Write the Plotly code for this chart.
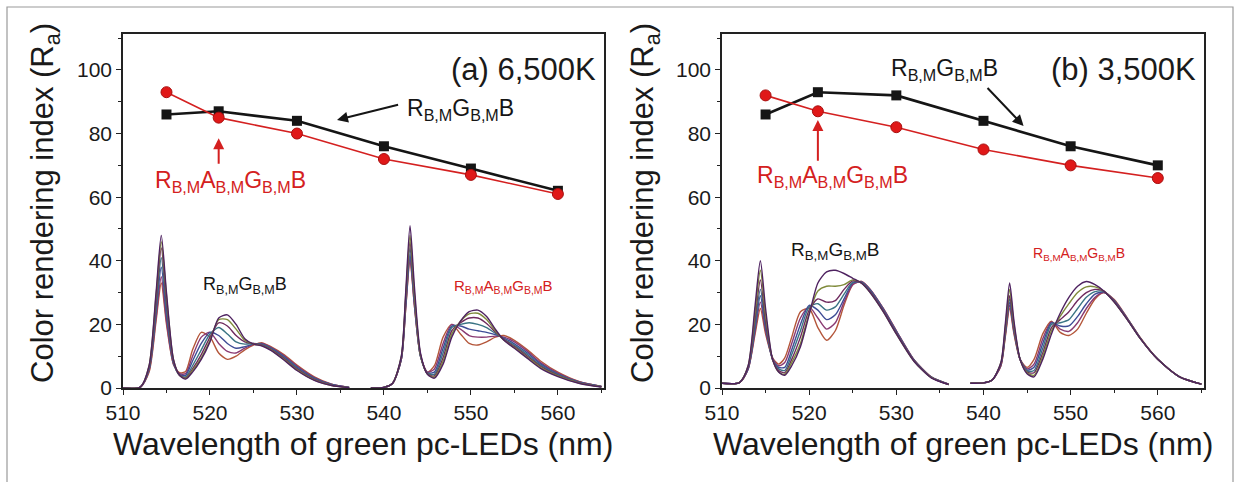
import plotly.graph_objects as go

# ---------------- data ----------------
wavelength = [515, 521, 530, 540, 550, 560]

# (a) 6,500K
cri_a_rgb = [86, 87, 84, 76, 69, 62]
cri_a_ragb = [93, 85, 80, 72, 67, 61]
# (b) 3,500K
cri_b_rgb = [86, 93, 92, 84, 76, 70]
cri_b_ragb = [92, 87, 82, 75, 70, 66]

x_ticks = [510, 520, 530, 540, 550, 560]
y_ticks = [0, 20, 40, 60, 80, 100]

# inset spectra (plotted in the axes' units)
spec1_x = [510, 512, 513, 513.8, 514.4, 515.0, 515.8, 516.5, 517.2, 518, 519, 520,
           521, 522, 523, 524, 525, 526, 527, 528.5, 530, 532, 534, 536]
spec2_x = [538.5, 540, 541, 542, 542.5, 543, 543.5, 544.2, 545, 545.8, 546.8, 547.8,
           548.8, 549.8, 550.8, 551.8, 552.8, 553.8, 555, 556.5, 558, 560, 562.5, 565]

spec_a1 = [
    [0, 0.3, 7, 30, 48, 30, 9, 4, 2.8, 5, 9, 14.5, 22, 23, 20, 15.5, 13.8, 13.2, 11.8, 8.8, 5.5, 2.4, 0.8, 0.1],
    [0, 0.3, 7, 29, 46, 29, 9, 4, 3, 5.5, 9.5, 15, 21.5, 21.5, 18.5, 15, 13.8, 13.3, 12, 9, 5.7, 2.5, 0.8, 0.1],
    [0, 0.3, 6.5, 27, 44, 27, 8.5, 4, 3.2, 6, 10.5, 16, 20.5, 19.5, 16.5, 14.5, 14, 13.5, 12.2, 9.3, 6, 2.7, 0.9, 0.1],
    [0, 0.3, 6, 25, 41, 25, 8, 4, 3.5, 7, 12, 17, 19, 17, 14.5, 13.8, 14, 13.6, 12.4, 9.6, 6.3, 2.9, 1, 0.15],
    [0, 0.3, 6, 24, 38, 23, 8, 4.2, 4, 8.5, 14, 17.5, 16.5, 14, 12.5, 13, 13.8, 13.8, 12.6, 9.9, 6.6, 3.1, 1.1, 0.2],
    [0, 0.3, 5.5, 22, 35, 21, 7.5, 4.5, 4.5, 10, 16, 17.5, 14, 11.5, 11, 12.5, 13.7, 14, 12.8, 10.2, 6.9, 3.3, 1.1, 0.2],
    [0, 0.3, 5, 21, 33, 20, 7.5, 4.8, 5.2, 12, 17.5, 16, 11, 9, 10, 12, 13.5, 14.2, 13, 10.5, 7.2, 3.5, 1.2, 0.2],
]
spec_a2 = [
    [0, 0.2, 1.5, 10, 30, 51, 32, 11, 4.3, 3.1, 7.5, 16, 21, 24, 24.5, 22.5, 18.5, 15, 12.5, 9.3, 6.2, 3.6, 1.4, 0.3],
    [0, 0.2, 1.5, 10, 29, 48, 30, 10.5, 4.4, 3.4, 8.5, 17, 21, 23.3, 23.5, 21.5, 18, 15, 12.7, 9.6, 6.5, 3.8, 1.5, 0.4],
    [0, 0.2, 1.5, 9.5, 28, 46, 29, 10.5, 4.5, 3.8, 9.5, 18, 20.5, 22, 22, 20.3, 17.6, 15.2, 13, 10, 6.8, 4, 1.6, 0.4],
    [0, 0.2, 1.5, 9.5, 27, 44, 28, 10, 4.6, 4.3, 11, 19, 20, 20.5, 20, 19, 17.2, 15.4, 13.4, 10.5, 7.2, 4.2, 1.7, 0.4],
    [0, 0.2, 1.5, 9, 26, 42, 27, 10, 4.8, 5, 12.5, 19.5, 19.5, 18.5, 18, 17.5, 16.8, 15.7, 13.9, 11, 7.6, 4.4, 1.8, 0.5],
    [0, 0.2, 1.5, 9, 25, 41, 26, 10, 5, 6, 14, 20, 18.5, 16.5, 16, 16, 16.3, 16, 14.5, 11.5, 8, 4.7, 1.9, 0.5],
    [0, 0.2, 1.5, 9, 25, 40, 26, 10, 5, 7, 16, 20, 17, 14, 13.5, 14.5, 16, 16.5, 15, 12, 8.5, 5, 2, 0.5],
]
spec_b1 = [
    [1.5, 1.7, 7, 26, 40, 25, 9, 5, 4, 7, 13, 23, 33, 36.5, 37, 36, 34.5, 33, 30, 24, 17, 8.5, 3.2, 1.1],
    [1.5, 1.7, 7, 24, 37, 23, 9, 5, 4.3, 8, 14, 23.5, 30.5, 32, 32, 32.5, 34, 33, 30, 24, 17, 8.5, 3.3, 1.1],
    [1.5, 1.7, 6.5, 22, 34, 21, 9, 5.5, 4.8, 9, 16, 24.5, 28, 27, 27.5, 31, 33.7, 33, 30.3, 24.3, 17.3, 8.7, 3.3, 1.1],
    [1.5, 1.7, 6.5, 20, 31, 20, 9, 6, 5.5, 10.5, 18, 25.5, 26.5, 24.5, 25.5, 29.5, 33.3, 33.2, 30.5, 24.5, 17.5, 8.8, 3.4, 1.1],
    [1.5, 1.7, 6, 19, 29, 19, 9, 6.5, 6.5, 12, 20, 26, 24.5, 21.5, 23, 28, 33, 33.3, 30.8, 24.8, 17.8, 8.9, 3.4, 1.2],
    [1.5, 1.7, 6, 18, 27, 18, 9.5, 7, 8, 14, 22, 25.5, 22, 18.5, 20.5, 27, 32.5, 33.5, 31, 25, 18, 9, 3.5, 1.2],
    [1.5, 1.7, 6, 17, 25, 17, 9.5, 7.5, 9.5, 16, 24, 25, 19, 15, 18, 26, 32.5, 33.5, 31, 25, 18, 9, 3.5, 1.2],
]
spec_b2 = [
    [1.5, 1.6, 2.5, 8, 20, 33, 21, 9, 4.5, 3.5, 9, 17, 23.5, 28.5, 32, 33.5, 32.5, 30.5, 27, 21.5, 15.5, 9, 3.5, 1.2],
    [1.5, 1.6, 2.5, 8, 19, 31, 20, 9, 4.8, 4, 10, 18, 22.5, 26.5, 30, 31.8, 31.8, 30.5, 27, 21.5, 15.5, 9, 3.5, 1.2],
    [1.5, 1.6, 2.5, 7.5, 18, 29, 19, 9, 5, 4.8, 11, 19, 21.5, 24, 27.5, 30, 31, 30.5, 27.2, 21.6, 15.5, 9, 3.5, 1.2],
    [1.5, 1.6, 2.5, 7.5, 17.5, 28, 18.5, 9, 5.3, 5.5, 12.5, 20, 20.5, 21.5, 25, 28.5, 30.3, 30.3, 27.3, 21.7, 15.6, 9, 3.5, 1.2],
    [1.5, 1.6, 2.5, 7.5, 17, 27, 18, 9, 5.6, 6.5, 14, 20.5, 19.5, 19.5, 22.5, 26.5, 29.5, 30.2, 27.5, 21.8, 15.6, 9, 3.5, 1.2],
    [1.5, 1.6, 2.5, 7, 16.5, 26, 17.5, 9, 6, 7.5, 15.5, 20.8, 18.5, 17.8, 20.5, 25, 28.5, 30, 27.6, 21.9, 15.7, 9, 3.5, 1.2],
    [1.5, 1.6, 2.5, 7, 16, 25, 17, 9, 6.5, 9, 17, 21, 17.5, 16.5, 18.5, 23.5, 28, 30, 27.8, 22, 15.8, 9, 3.5, 1.2],
]

spec_colors = ["#4e2260", "#7f8a3a", "#6e2a5e", "#3a7484", "#3e4c96", "#8a3a72", "#b4563a"]

# ---------------- figure ----------------
FONT = "Liberation Sans, Arial, sans-serif"
BLACK = "#151515"
RED = "#d42020"

fig = go.Figure()

panels = [
    ("x", "y", spec_a1, spec_a2, cri_a_rgb, cri_a_ragb),
    ("x2", "y2", spec_b1, spec_b2, cri_b_rgb, cri_b_ragb),
]
for xa, ya, s1, s2, rgb, ragb in panels:
    for sx, group in ((spec1_x, s1), (spec2_x, s2)):
        for k in range(len(group) - 1, -1, -1):
            fig.add_trace(go.Scatter(
                x=sx, y=group[k], xaxis=xa, yaxis=ya, mode="lines",
                line=dict(color=spec_colors[k], width=1.4, shape="spline", smoothing=0.7),
                showlegend=False, hoverinfo="skip"))
    fig.add_trace(go.Scatter(
        x=wavelength, y=rgb, xaxis=xa, yaxis=ya, mode="lines+markers",
        line=dict(color=BLACK, width=2.6),
        marker=dict(symbol="square", size=10, color=BLACK),
        showlegend=False))
    fig.add_trace(go.Scatter(
        x=wavelength, y=ragb, xaxis=xa, yaxis=ya, mode="lines+markers",
        line=dict(color=RED, width=1.6),
        marker=dict(symbol="circle", size=11, color="#e01818",
                    line=dict(color="#a81010", width=1)),
        showlegend=False))

W, H = 1240, 482
ax_common = dict(
    showline=True, linecolor="#222", linewidth=1.5, mirror=True,
    ticks="outside", ticklen=5, tickwidth=1.3, tickcolor="#222",
    showgrid=False, zeroline=False, automargin=False,
    tickfont=dict(family=FONT, size=21, color="#1a1a1a"),
)
xr = [510, 565.3]
yr = [0, 111.3]
ydom = [(H - 388) / H, (H - 34) / H]
fig.update_layout(
    width=W, height=H, autosize=False,
    margin=dict(l=0, r=0, t=0, b=0, pad=0, autoexpand=False),
    paper_bgcolor="white", plot_bgcolor="white",
    font=dict(family=FONT, color="#1a1a1a"),
    xaxis=dict(domain=[123 / W, 604 / W], range=xr, tickvals=x_ticks,
               minor=dict(dtick=5, ticklen=3, ticks="outside", tickcolor="#222"), anchor="y", **ax_common),
    yaxis=dict(domain=ydom, range=yr, tickvals=y_ticks,
               minor=dict(dtick=10, ticklen=3, ticks="outside", tickcolor="#222"), anchor="x", **ax_common),
    xaxis2=dict(domain=[722 / W, 1204 / W], range=xr, tickvals=x_ticks,
                minor=dict(dtick=5, ticklen=3, ticks="outside", tickcolor="#222"), anchor="y2", **ax_common),
    yaxis2=dict(domain=ydom, range=yr, tickvals=y_ticks,
                minor=dict(dtick=10, ticklen=3, ticks="outside", tickcolor="#222"), anchor="x2", **ax_common),
)

RGB = "R<sub>B,M</sub>G<sub>B,M</sub>B"
RAGB = "R<sub>B,M</sub>A<sub>B,M</sub>G<sub>B,M</sub>B"

ann = []
# axis titles
for cx in (45, 645):
    ann.append(dict(x=cx / W, y=(H - 203) / H, xref="paper", yref="paper", showarrow=False,
                    xanchor="center", yanchor="middle",
                    text="Color rendering index (R<sub>a</sub>)", textangle=-90,
                    font=dict(family=FONT, size=31, color="#1a1a1a")))
for cx in (363, 963):
    ann.append(dict(x=cx / W, y=(H - 444) / H, xref="paper", yref="paper", showarrow=False,
                    xanchor="center", yanchor="middle",
                    text="Wavelength of green pc-LEDs (nm)",
                    font=dict(family=FONT, size=32, color="#1a1a1a")))

# panel titles
ann.append(dict(x=564.6, y=100, xref="x", yref="y", xanchor="right", yanchor="middle", showarrow=False,
                text="(a) 6,500K", font=dict(family=FONT, size=31, color="#1a1a1a")))
ann.append(dict(x=564.6, y=100, xref="x2", yref="y2", xanchor="right", yanchor="middle", showarrow=False,
                text="(b) 3,500K", font=dict(family=FONT, size=31, color="#1a1a1a")))

# panel (a) main labels + arrows
ann.append(dict(x=542.4, y=87.5, xref="x", yref="y", xanchor="left", yanchor="middle", showarrow=False,
                text=RGB, font=dict(family=FONT, size=23, color=BLACK)))
ann.append(dict(x=534.6, y=84.3, ax=541.8, ay=89.2, xref="x", yref="y", axref="x", ayref="y",
                showarrow=True, arrowhead=2, arrowsize=1.1, arrowwidth=2, arrowcolor=BLACK, text=""))
ann.append(dict(x=513.5, y=65, xref="x", yref="y", xanchor="left", yanchor="middle", showarrow=False,
                text=RAGB, font=dict(family=FONT, size=23, color=RED)))
ann.append(dict(x=521, y=78.5, ax=521, ay=70, xref="x", yref="y", axref="x", ayref="y",
                showarrow=True, arrowhead=2, arrowsize=1.1, arrowwidth=2, arrowcolor=RED, text=""))
# panel (a) inset labels
ann.append(dict(x=524, y=32.3, xref="x", yref="y", xanchor="center", yanchor="middle", showarrow=False,
                text=RGB, font=dict(family=FONT, size=18, color=BLACK)))
ann.append(dict(x=553.7, y=32, xref="x", yref="y", xanchor="center", yanchor="middle", showarrow=False,
                text=RAGB, font=dict(family=FONT, size=15, color=RED)))

# panel (b) main labels + arrows
ann.append(dict(x=529.2, y=100, xref="x2", yref="y2", xanchor="left", yanchor="middle", showarrow=False,
                text=RGB, font=dict(family=FONT, size=23, color=BLACK)))
ann.append(dict(x=544.6, y=82.4, ax=540.3, ay=94.8, xref="x2", yref="y2", axref="x2", ayref="y2",
                showarrow=True, arrowhead=2, arrowsize=1.1, arrowwidth=2, arrowcolor=BLACK, text=""))
ann.append(dict(x=513.8, y=66.5, xref="x2", yref="y2", xanchor="left", yanchor="middle", showarrow=False,
                text=RAGB, font=dict(family=FONT, size=23, color=RED)))
ann.append(dict(x=521, y=84.3, ax=521, ay=71, xref="x2", yref="y2", axref="x2", ayref="y2",
                showarrow=True, arrowhead=2, arrowsize=1.1, arrowwidth=2, arrowcolor=RED, text=""))
# panel (b) inset labels
ann.append(dict(x=523, y=43, xref="x2", yref="y2", xanchor="center", yanchor="middle", showarrow=False,
                text=RGB, font=dict(family=FONT, size=19, color=BLACK)))
ann.append(dict(x=551, y=42, xref="x2", yref="y2", xanchor="center", yanchor="middle", showarrow=False,
                text=RAGB, font=dict(family=FONT, size=14, color=RED)))

fig.update_layout(annotations=ann)

# outer grey frame
fig.add_shape(type="rect", xref="paper", yref="paper",
              x0=7 / W, x1=1233 / W, y0=-0.05, y1=(H - 7) / H,
              line=dict(color="#9a9a9a", width=1.2), layer="below")

fig.write_html("out.html", config={"responsive": False, "displayModeBar": False},
               post_script="document.body.style.margin='0px';document.body.style.overflow='hidden';")
